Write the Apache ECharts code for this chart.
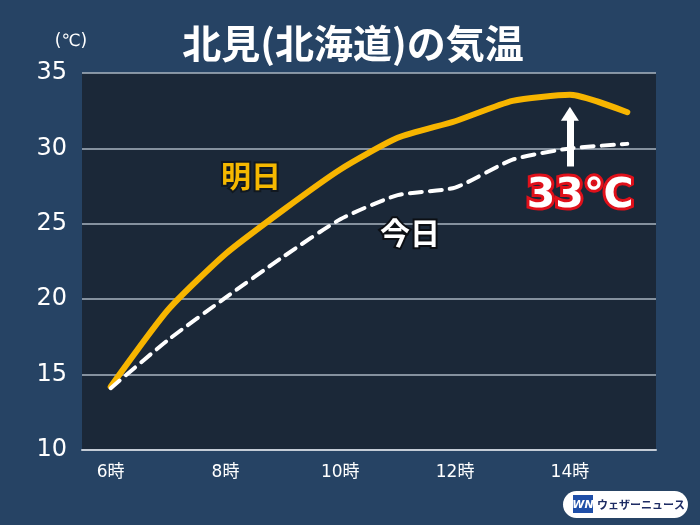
<!DOCTYPE html>
<html>
<head>
<meta charset="utf-8">
<script src="https://cdn.jsdelivr.net/npm/echarts@6/dist/echarts.min.js"></script>
<style>
html,body{margin:0;padding:0;background:#264364;}
#chart{width:700px;height:525px;}
</style>
</head>
<body>
<div id="chart"></div>
<script>
// ---- data ----
var hours = ['6時','7時','8時','9時','10時','11時','12時','13時','14時','15時'];
var tomorrow = [14.2, 19.3, 23.0, 25.9, 28.6, 30.7, 31.8, 33.15, 33.55, 32.4];
var today = [14.1, 17.3, 20.1, 22.8, 25.3, 26.9, 27.4, 29.25, 30.0, 30.3];
var yMin = 10, yMax = 35, yStep = 5;
var peakIndex = 8;          // 14時
var arrowFrom = 28.8, arrowTo = 32.3;
var titleText = '北見(北海道)の気温';
var unitText = '(℃)';
var tomorrowLabel = '明日', todayLabel = '今日', peakLabel = '33℃';
var brandText = 'ウェザーニュース';

var numFont = '"DejaVu Sans","Noto Sans CJK JP",sans-serif';
var jpFont = '"Noto Sans CJK JP",sans-serif';

var chart = echarts.init(document.getElementById('chart'), null, {renderer:'canvas'});
chart.setOption({
  backgroundColor: '#264364',
  animation: false,
  grid: {left: 82, right: 44, top: 73, bottom: 75, show: true,
         backgroundColor: '#1b2838', borderWidth: 0},
  xAxis: {
    type: 'category', data: hours, boundaryGap: true,
    axisLine: {show: true, lineStyle: {color: '#c4ccd6', width: 2}},
    axisTick: {show: false},
    axisLabel: {interval: 1, color: '#ffffff', fontSize: 17, margin: 14,
                fontFamily: numFont},
    splitLine: {show: false}
  },
  yAxis: {
    type: 'value', min: yMin, max: yMax, interval: yStep,
    axisLine: {show: false}, axisTick: {show: false},
    axisLabel: {color: '#ffffff', fontSize: 24, margin: 15, fontFamily: numFont},
    splitLine: {show: true, lineStyle: {color: '#aab4c0', width: 1.5}}
  },
  series: [
    {
      name: todayLabel, type: 'line', data: today, smooth: 0.2,
      symbol: 'none', z: 3,
      lineStyle: {color: '#ffffff', width: 4, type: [12, 8], cap: 'round'}
    },
    {
      name: tomorrowLabel, type: 'line', data: tomorrow, smooth: 0.2,
      symbol: 'none', z: 2,
      lineStyle: {color: '#f7b500', width: 6, cap: 'round', join: 'round'},
      markLine: {
        silent: true, z: 5,
        symbol: ['none', 'triangle'], symbolSize: [18, 14],
        label: {show: false},
        lineStyle: {color: '#ffffff', width: 7, type: 'solid'},
        emphasis: {disabled: true},
        data: [[{coord: [peakIndex, arrowFrom]}, {coord: [peakIndex, arrowTo]}]]
      }
    }
  ],
  graphic: [
    {type: 'text', position: [353, 43], z: 10,
     style: {text: titleText, fill: '#ffffff', font: 'bold 39px ' + jpFont,
             textAlign: 'center', textVerticalAlign: 'middle'}},
    {type: 'text', position: [71, 42], z: 10,
     style: {text: unitText, fill: '#ffffff', font: '17px ' + numFont,
             textAlign: 'center', textVerticalAlign: 'middle'}},
    {type: 'text', position: [251, 176], z: 10,
     style: {text: tomorrowLabel, fill: '#f5b800', stroke: '#111820', lineWidth: 4,
             font: 'bold 30px ' + jpFont, textAlign: 'center', textVerticalAlign: 'middle'}},
    {type: 'text', position: [410, 233], z: 10,
     style: {text: todayLabel, fill: '#ffffff', stroke: '#0c0f14', lineWidth: 4,
             font: 'bold 30px ' + jpFont, textAlign: 'center', textVerticalAlign: 'middle'}},
    {type: 'text', position: [580, 196], z: 10,
     style: {text: peakLabel, fill: '#ffffff', stroke: '#e0101a', lineWidth: 6,
             font: 'bold 41px ' + numFont, textAlign: 'center', textVerticalAlign: 'middle'}},
    {type: 'rect', z: 10, shape: {x: 563, y: 491, width: 125, height: 27, r: 13.5},
     style: {fill: '#ffffff'}},
    {type: 'rect', z: 11, shape: {x: 573, y: 495, width: 20, height: 18},
     style: {fill: '#1f4fa8'}},
    {type: 'text', z: 12, position: [583, 505],
     style: {text: 'WN', fill: '#ffffff', font: 'italic bold 11px "DejaVu Sans"',
             textAlign: 'center', textVerticalAlign: 'middle'}},
    {type: 'text', z: 12, position: [597, 505],
     style: {text: brandText, fill: '#1d2b63', font: 'bold 11px ' + jpFont,
             textAlign: 'left', textVerticalAlign: 'middle'}}
  ]
});
</script>
</body>
</html>
